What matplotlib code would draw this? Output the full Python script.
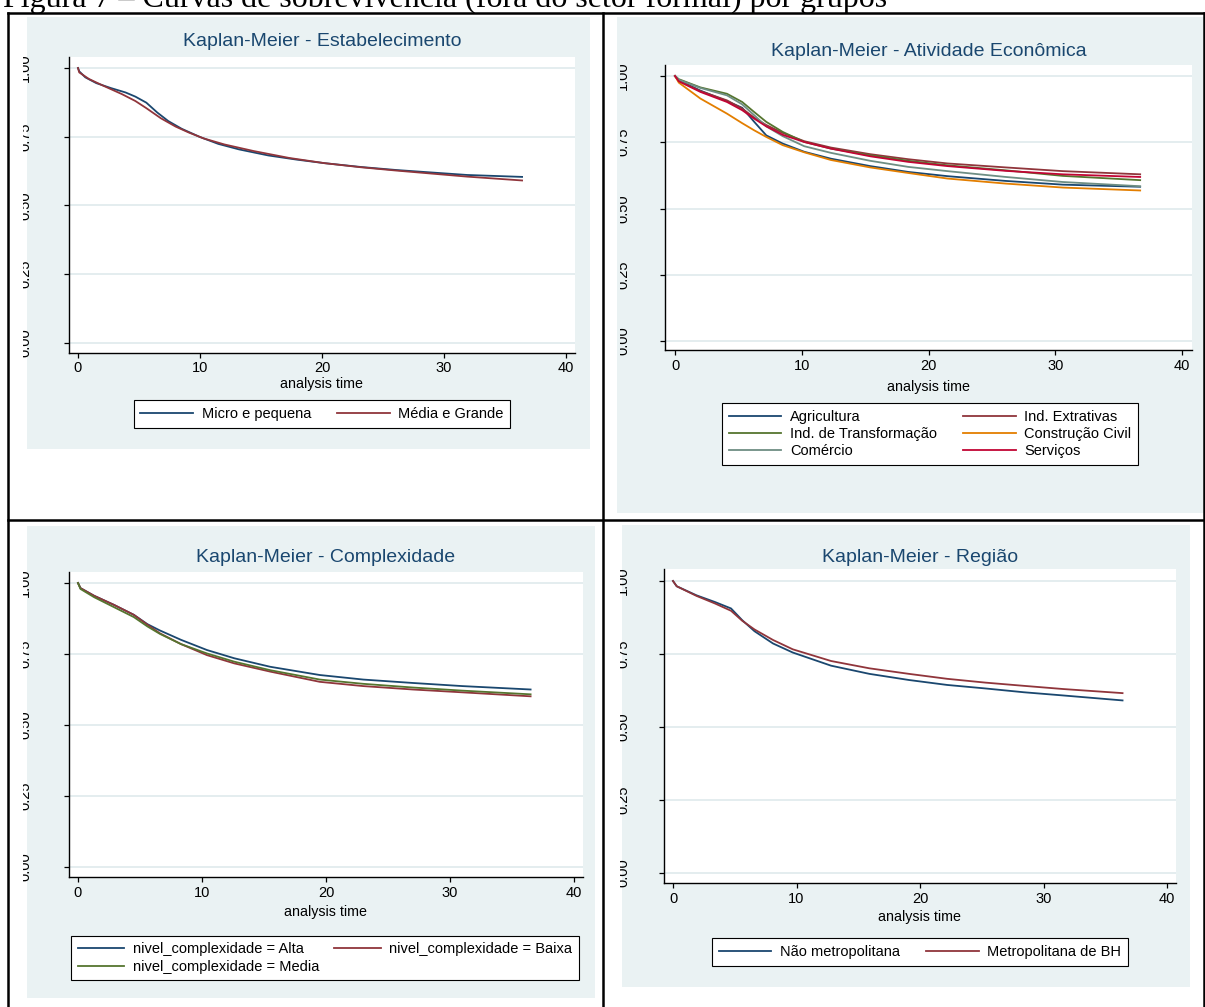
import matplotlib
matplotlib.use("Agg")
import matplotlib.pyplot as plt
from matplotlib.patches import Rectangle
from matplotlib.lines import Line2D
from matplotlib.transforms import blended_transform_factory, Bbox, TransformedBbox

plt.rcParams["font.family"] = ["Liberation Sans", "DejaVu Sans"]

W, H = 1205, 1007
DPI = 100

# Stata s2color-like palette
BG = "#EAF2F3"
GRID = "#E2ECEE"
TITLE_C = "#1A476F"
NAVY = "#1A476F"
MAROON = "#90353B"
GREEN = "#55752F"
ORANGE = "#E37E00"
TEAL = "#6E8E84"
CRANBERRY = "#C10534"

CAPTION = "Figura 7 – Curvas de sobrevivência (fora do setor formal) por grupos"
XTICKS = [0, 10, 20, 30, 40]
YTICKS = [0.0, 0.25, 0.50, 0.75, 1.00]
YTICKLABELS = ["0.00", "0.25", "0.50", "0.75", "1.00"]
XLABEL = "analysis time"

# ---- Estabelecimento ----
est_micro_t = [0, 0.1, 0.6, 1.5, 2.7, 3.9, 4.7, 5.6, 6.5, 7.4, 8.5, 10, 11.5, 13.2,
               15.6, 17.9, 20.2, 23.2, 26.1, 29, 31.9, 36.4]
est_micro_s = [1.0, 0.988, 0.966, 0.945, 0.927, 0.911, 0.896, 0.874, 0.838, 0.807,
               0.779, 0.749, 0.724, 0.704, 0.682, 0.667, 0.654, 0.640, 0.629, 0.620,
               0.611, 0.604]
est_media_t = [0, 0.1, 0.9, 2.1, 3.6, 4.7, 5.6, 6.8, 8.0, 9.1, 10.3, 12, 14.4, 17.3,
               20.2, 23.2, 26.1, 29, 31.9, 36.4]
est_media_s = [1.0, 0.984, 0.960, 0.935, 0.905, 0.880, 0.854, 0.817, 0.787, 0.765,
               0.744, 0.722, 0.698, 0.673, 0.654, 0.639, 0.627, 0.616, 0.605, 0.591]

# ---- Atividade Economica ----
ativ_t = [0, 0.3, 2.0, 4.1, 5.3, 6.25, 7.2, 8.5, 10.2, 12.3, 15.4, 18.4, 21.5, 26.1,
          30.6, 36.7]
agri_s = [1.0, 0.984, 0.945, 0.905, 0.880, 0.827, 0.776, 0.745, 0.714, 0.688, 0.660,
          0.638, 0.622, 0.604, 0.590, 0.582]
extr_s = [1.0, 0.981, 0.943, 0.908, 0.877, 0.843, 0.815, 0.785, 0.754, 0.730, 0.705,
          0.686, 0.670, 0.655, 0.641, 0.629]
transf_s = [1.0, 0.988, 0.957, 0.933, 0.902, 0.864, 0.827, 0.789, 0.751, 0.726, 0.701,
            0.680, 0.663, 0.644, 0.623, 0.607]
constr_s = [1.0, 0.975, 0.915, 0.858, 0.822, 0.795, 0.770, 0.739, 0.712, 0.683, 0.655,
            0.634, 0.613, 0.594, 0.579, 0.568]
comerc_s = [1.0, 0.986, 0.955, 0.927, 0.893, 0.852, 0.810, 0.773, 0.735, 0.710, 0.680,
            0.657, 0.641, 0.619, 0.600, 0.584]
serv_s = [1.0, 0.980, 0.940, 0.902, 0.871, 0.839, 0.810, 0.778, 0.751, 0.726, 0.697,
          0.676, 0.660, 0.642, 0.629, 0.619]

# ---- Complexidade ----
comp_t = [0, 0.2, 1.3, 2.9, 4.5, 5.6, 6.6, 8.3, 10.4, 12.6, 15.5, 19.5, 23, 27, 31, 36.5]
alta_s = [1.0, 0.982, 0.955, 0.923, 0.888, 0.855, 0.833, 0.800, 0.764, 0.735, 0.705,
          0.676, 0.660, 0.648, 0.637, 0.625]
baixa_s = [1.0, 0.982, 0.955, 0.923, 0.888, 0.853, 0.823, 0.785, 0.746, 0.717, 0.688,
           0.652, 0.637, 0.625, 0.615, 0.601]
media_s = [1.0, 0.979, 0.950, 0.915, 0.880, 0.847, 0.821, 0.785, 0.752, 0.723, 0.693,
           0.660, 0.645, 0.632, 0.621, 0.608]

# ---- Regiao ----
reg_t = [0, 0.3, 1.9, 3.4, 4.7, 5.6, 6.6, 8.1, 9.7, 12.8, 15.9, 19.1, 22.2, 25.3, 28.4,
         31.6, 36.4]
naometro_s = [1.0, 0.982, 0.951, 0.928, 0.906, 0.866, 0.828, 0.786, 0.755, 0.710, 0.682,
              0.661, 0.644, 0.632, 0.619, 0.608, 0.591]
metro_s = [1.0, 0.982, 0.949, 0.923, 0.898, 0.864, 0.834, 0.798, 0.766, 0.726, 0.701,
           0.682, 0.665, 0.652, 0.641, 0.630, 0.616]

XLIM = (-0.75, 40.75)
YLIM = (-0.035, 1.04)

fig = plt.figure(figsize=(W / DPI, H / DPI), dpi=DPI)
fig.patch.set_facecolor("white")


def fx(x):
    return x / W


def fy(y):
    return 1 - y / H


def axes_from_ticks(x0, x40, y1, y0):
    # place the axes so that x=0/x=40 and y=1/y=0 land on the given pixels
    ppx = (x40 - x0) / 40.0
    ppy = (y0 - y1) / 1.0
    left = x0 + XLIM[0] * ppx
    right = x0 + XLIM[1] * ppx
    top = y0 - YLIM[1] * ppy
    bottom = y0 - YLIM[0] * ppy
    return fig.add_axes([fx(left), fy(bottom), (right - left) / W, (bottom - top) / H])


def panel(bg, ticks, title, title_y, series, order, leg_center, lab_x, clip_x,
          xlab_y, colsp=1.8, hlen=3.6):
    fig.add_artist(Rectangle((fx(bg[0]), fy(bg[3])), (bg[2] - bg[0]) / W,
                             (bg[3] - bg[1]) / H, transform=fig.transFigure,
                             facecolor=BG, edgecolor="none", zorder=0))
    ax = axes_from_ticks(*ticks)
    ax.set_facecolor("white")
    handles = []
    for t, s, color, label in series:
        h, = ax.plot(t, s, color=color, lw=1.3, label=label, solid_joinstyle="round")
        handles.append(h)
    ax.set_xlim(*XLIM)
    ax.set_ylim(*YLIM)
    ax.set_xticks(XTICKS)
    ax.set_yticks(YTICKS)
    ax.set_yticklabels([])
    ax.tick_params(axis="both", direction="out", length=3.8, width=0.9, color="black")
    ax.tick_params(axis="x", labelsize=10.5, pad=2.5)
    ax.yaxis.grid(True, color=GRID, lw=1.3)
    ax.set_axisbelow(True)
    for side in ["top", "right"]:
        ax.spines[side].set_visible(False)
    for side in ["left", "bottom"]:
        ax.spines[side].set_color("black")
        ax.spines[side].set_linewidth(1.0)

    cx = ax.get_position().x0 + ax.get_position().width / 2
    fig.text(cx, fy(title_y), title, ha="center", va="center", fontsize=14,
             color=TITLE_C)
    fig.text(cx, fy(xlab_y), XLABEL, ha="center", va="center", fontsize=10.3)

    # rotated y labels, their left part cut off by the graph edge
    trans = blended_transform_factory(fig.transFigure, ax.transData)
    clip = TransformedBbox(Bbox([[fx(clip_x), 0], [1, 1]]), fig.transFigure)
    for v, lab in zip(YTICKS, YTICKLABELS):
        txt = fig.text(fx(lab_x), v, lab, transform=trans, rotation=90, ha="center",
                       va="center", fontsize=10.5)
        txt.set_clip_on(True)
        txt.set_clip_box(clip)

    # legend entries run row by row, two per row
    hs = [handles[i] for i in order]
    leg = ax.legend(hs, [h.get_label() for h in hs], loc="center",
                    bbox_to_anchor=(fx(leg_center[0]), fy(leg_center[1])),
                    bbox_transform=fig.transFigure, ncol=2, fontsize=10.5,
                    frameon=True, fancybox=False, framealpha=1, edgecolor="black",
                    borderpad=0.45, handlelength=hlen, handletextpad=0.6,
                    columnspacing=colsp, labelspacing=0.22, borderaxespad=0)
    leg.get_frame().set_linewidth(0.8)
    return ax


# top-left: establishment size
panel(bg=(27, 17, 590, 449), ticks=(78, 566, 68, 343),
      title="Kaplan-Meier - Estabelecimento", title_y=42,
      series=[(est_micro_t, est_micro_s, NAVY, "Micro e pequena"),
              (est_media_t, est_media_s, MAROON, "Média e Grande")],
      order=[0, 1], leg_center=(322, 414), lab_x=25, clip_x=22.5, xlab_y=384)

# top-right: economic activity
panel(bg=(617, 17, 1205, 513), ticks=(675, 1182, 76, 341),
      title="Kaplan-Meier - Atividade Econômica", title_y=51,
      series=[(ativ_t, agri_s, NAVY, "Agricultura"),
              (ativ_t, extr_s, MAROON, "Ind. Extrativas"),
              (ativ_t, transf_s, GREEN, "Ind. de Transformação"),
              (ativ_t, constr_s, ORANGE, "Construção Civil"),
              (ativ_t, comerc_s, TEAL, "Comércio"),
              (ativ_t, serv_s, CRANBERRY, "Serviços")],
      order=[0, 2, 4, 1, 3, 5], leg_center=(930, 434), lab_x=623, clip_x=620.5,
      xlab_y=387)

# bottom-left: complexity
panel(bg=(27, 526, 595, 998), ticks=(78, 574, 583, 867),
      title="Kaplan-Meier - Complexidade", title_y=557,
      series=[(comp_t, alta_s, NAVY, "nivel_complexidade = Alta"),
              (comp_t, baixa_s, MAROON, "nivel_complexidade = Baixa"),
              (comp_t, media_s, GREEN, "nivel_complexidade = Media")],
      order=[0, 2, 1], leg_center=(325, 958), lab_x=25, clip_x=22.5, xlab_y=912,
      colsp=1.0, hlen=3.2)

# bottom-right: region
panel(bg=(622, 525, 1190, 987), ticks=(673, 1167, 581, 873),
      title="Kaplan-Meier - Região", title_y=557,
      series=[(reg_t, naometro_s, NAVY, "Não metropolitana"),
              (reg_t, metro_s, MAROON, "Metropolitana de BH")],
      order=[0, 1], leg_center=(920, 952), lab_x=623, clip_x=620.5, xlab_y=917)

# table rules around the four graphs
rules = [((8, 8), (13, 1007)), ((603, 603), (13, 1007)), ((1204, 1204), (13, 1007)),
         ((8, 1205), (13, 13)), ((8, 1205), (520, 520))]
for xs, ys in rules:
    fig.add_artist(Line2D([fx(x) for x in xs], [fy(y) for y in ys],
                          transform=fig.transFigure, color="black", lw=1.8))

fig.text(fx(3), fy(7), CAPTION, family="Liberation Serif", fontsize=23,
         va="baseline", ha="left")

fig.savefig("out.png", dpi=DPI)
